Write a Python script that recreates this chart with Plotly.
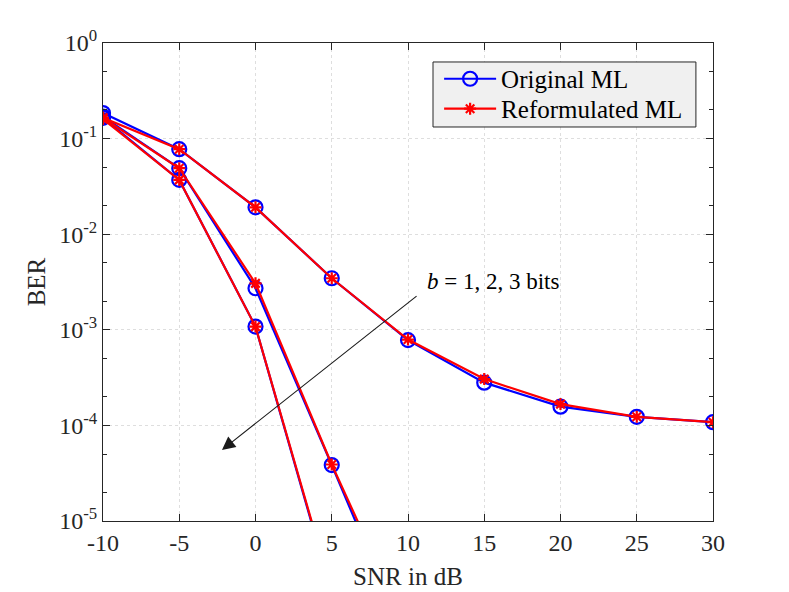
import plotly.graph_objects as go

snr = [-10, -5, 0, 5, 10, 15, 20, 25, 30]
snr_b2 = [-10, -5, 0, 5, 10]
snr_b3 = [-10, -5, 0, 5]

# b = 1 bit
orig_b1 = [0.185, 0.0775, 0.0191, 0.00346, 0.00078, 0.00028, 0.000157, 0.000123, 0.000108]
ref_b1 = [0.165, 0.0775, 0.0191, 0.00346, 0.00079, 0.000305, 0.000167, 0.000123, 0.000108]
# b = 2 bits
orig_b2 = [0.17, 0.049, 0.00272, 3.85e-5, 5.0e-7]
ref_b2 = [0.165, 0.049, 0.00306, 3.9e-5, 7.0e-7]
# b = 3 bits
orig_b3 = [0.165, 0.037, 0.00108, 1.75e-6]
ref_b3 = [0.16, 0.037, 0.00108, 1.85e-6]

ytick_vals = [1e-5, 1e-4, 1e-3, 1e-2, 1e-1, 1e0]
ytick_text = ["10<sup>-5</sup>", "10<sup>-4</sup>", "10<sup>-3</sup>", "10<sup>-2</sup>", "10<sup>-1</sup>", "10<sup>0</sup>"]
xtick_vals = [-10, -5, 0, 5, 10, 15, 20, 25, 30]
xtick_text = ["-10", "-5", "0", "5", "10", "15", "20", "25", "30"]

FONT = "Liberation Serif"
BLUE = "#0000ff"
RED = "#ff0000"

fig = go.Figure()

blue_sets = [(snr, orig_b1), (snr_b2, orig_b2), (snr_b3, orig_b3)]
red_sets = [(snr, ref_b1), (snr_b2, ref_b2), (snr_b3, ref_b3)]

for i, (xs, ys) in enumerate(blue_sets):
    fig.add_trace(go.Scatter(
        x=xs, y=ys, mode="lines+markers", name="Original ML",
        showlegend=(i == 0), legend="legend",
        line=dict(color=BLUE, width=2.2),
        marker=dict(symbol="circle-open", size=14, color=BLUE, line=dict(width=2.2, color=BLUE)),
    ))
for i, (xs, ys) in enumerate(red_sets):
    fig.add_trace(go.Scatter(
        x=xs, y=ys, mode="lines+markers", name="Reformulated ML",
        showlegend=(i == 0), legend="legend2",
        line=dict(color=RED, width=2.2),
        marker=dict(symbol="asterisk-open", size=10, color=RED, line=dict(width=2.2, color=RED)),
    ))

fig.add_annotation(
    x=-2.2, y=-4.257, xref="x", yref="y",
    ax=10.66, ay=-2.636, axref="x", ayref="y",
    showarrow=True, arrowhead=2, arrowsize=2.4, arrowwidth=1.1, arrowcolor="#1a1a1a",
    text="",
)
fig.add_annotation(
    x=11.1, y=-2.49, xref="x", yref="y", xanchor="left", yanchor="middle",
    text="<i>b</i> = 1, 2, 3 bits", showarrow=False,
    font=dict(family=FONT, size=23, color="#000000"),
)

# legend box
fig.add_shape(
    type="rect", xref="paper", yref="paper",
    x0=0.541, x1=0.972, y0=0.8243, y1=0.9603,
    fillcolor="#f0f0f0", line=dict(color="#262626", width=1), layer="above",
)

axis_common = dict(
    showline=True, linecolor="#262626", linewidth=1, mirror="ticks",
    ticks="inside", ticklen=7, tickcolor="#262626",
    showgrid=True, gridcolor="#dedede", griddash="dot", gridwidth=1,
    zeroline=False, automargin=False,
    tickfont=dict(family=FONT, size=24, color="#262626"),
)

fig.update_xaxes(
    range=[-10, 30], tickvals=xtick_vals, ticktext=xtick_text,
    title=dict(text="SNR in dB", font=dict(family=FONT, size=25, color="#262626"), standoff=12),
    **axis_common,
)
fig.update_yaxes(
    type="log", range=[-5, 0], tickvals=ytick_vals, ticktext=ytick_text,
    title=dict(text="BER", font=dict(family=FONT, size=25, color="#262626"), standoff=6),
    minor=dict(ticks="inside", ticklen=4, tickcolor="#262626", showgrid=False),
    **axis_common,
)

legend_common = dict(
    xanchor="left", yanchor="middle",
    bgcolor="rgba(0,0,0,0)", borderwidth=0, itemwidth=52,
    font=dict(family=FONT, size=25, color="#000000"),
)

fig.update_layout(
    width=781, height=584,
    margin=dict(l=95, r=76, t=35, b=71),
    paper_bgcolor="white", plot_bgcolor="white",
    font=dict(family=FONT, color="#262626"),
    legend=dict(x=0.551, y=0.9247, **legend_common),
    legend2=dict(x=0.551, y=0.862, **legend_common),
)

fig.write_html("out.html")
